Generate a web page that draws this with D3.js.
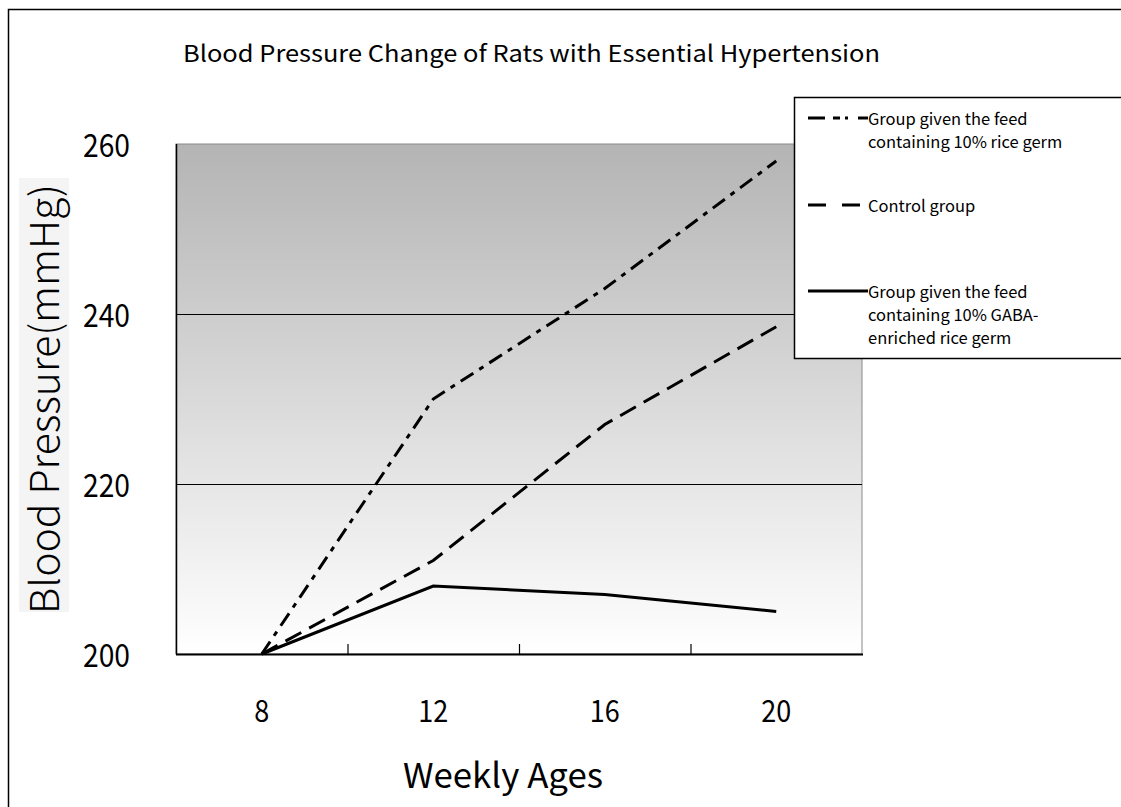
<!DOCTYPE html>
<html>
<head>
<meta charset="utf-8">
<script src="https://cdn.jsdelivr.net/npm/d3@7"></script>
<style>
  body { margin: 0; background: #fff; }
  text { font-family: "Noto Sans CJK JP", "DejaVu Sans", sans-serif; fill: #000; }
</style>
</head>
<body>
<script>
// data
var weeks = ["8", "12", "16", "20"];
var riceGerm = [200, 230, 243, 258];
var control = [200, 211, 227, 238.5];
var gaba = [200, 208, 207, 205];
var yTicks = [200, 220, 240, 260];
var seriesNames = [
  ["Group given the feed", "containing 10% rice germ"],
  ["Control group"],
  ["Group given the feed", "containing 10% GABA-", "enriched rice germ"]
];

var W = 1121, H = 807;
var plot = {left: 176, right: 862, top: 144, bottom: 654};

var svg = d3.select("body").append("svg")
    .attr("width", W)
    .attr("height", H);

var defs = svg.append("defs");
var grad = defs.append("linearGradient")
    .attr("id", "bg")
    .attr("x1", 0).attr("y1", 0).attr("x2", 0).attr("y2", 1);
grad.append("stop").attr("offset", "0%").attr("stop-color", "#b4b4b4");
grad.append("stop").attr("offset", "100%").attr("stop-color", "#ffffff");

// outer frame (runs off right/bottom)
svg.append("path")
    .attr("d", "M8.5," + (H + 5) + " L8.5,9.5 L" + (W + 5) + ",9.5")
    .attr("fill", "none")
    .attr("stroke", "#000")
    .attr("stroke-width", 1.5);

var x = d3.scaleBand().domain(weeks).range([plot.left, plot.right]);
var y = d3.scaleLinear().domain([200, 260]).range([plot.bottom, plot.top]);

// plot background
svg.append("rect")
    .attr("x", plot.left).attr("y", plot.top)
    .attr("width", plot.right - plot.left)
    .attr("height", plot.bottom - plot.top)
    .attr("fill", "url(#bg)")
    .attr("stroke", "#8a8a8a")
    .attr("stroke-width", 1);

// gridlines
svg.selectAll("line.grid")
    .data(yTicks.filter(function(d){ return d > 200 && d < 260; }))
    .enter().append("line")
    .attr("class", "grid")
    .attr("x1", plot.left).attr("x2", plot.right)
    .attr("y1", function(d){ return Math.round(y(d)) + 0.5; })
    .attr("y2", function(d){ return Math.round(y(d)) + 0.5; })
    .attr("stroke", "#000")
    .attr("stroke-width", 1.2);

// left axis line
svg.append("line")
    .attr("x1", plot.left + 0.5).attr("x2", plot.left + 0.5)
    .attr("y1", plot.top).attr("y2", plot.bottom)
    .attr("stroke", "#000").attr("stroke-width", 1.5);

// bottom axis with ticks between categories
var xAxis = svg.append("g")
    .attr("transform", "translate(0," + plot.bottom + ")");
xAxis.append("line")
    .attr("x1", plot.left).attr("x2", plot.right + 1)
    .attr("y1", 0.5).attr("y2", 0.5)
    .attr("stroke", "#000").attr("stroke-width", 2);
xAxis.selectAll("line.tick")
    .data(weeks.slice(1))
    .enter().append("line")
    .attr("class", "tick")
    .attr("x1", function(d){ return x(d) + 0.5; })
    .attr("x2", function(d){ return x(d) + 0.5; })
    .attr("y1", 0).attr("y2", -10)
    .attr("stroke", "#000").attr("stroke-width", 1.2);
xAxis.selectAll("text")
    .data(weeks)
    .enter().append("text")
    .attr("x", function(d){ return x(d) + x.bandwidth() / 2; })
    .attr("y", 68)
    .attr("text-anchor", "middle")
    .attr("textLength", function(d){ return d.length * 15; })
    .attr("lengthAdjust", "spacingAndGlyphs")
    .style("font-size", "30px")
    .text(function(d){ return d; });

// y tick labels
svg.selectAll("text.ytick")
    .data(yTicks)
    .enter().append("text")
    .attr("class", "ytick")
    .attr("x", 83)
    .attr("y", function(d){ return y(d) + 13; })
    .attr("textLength", 47)
    .attr("lengthAdjust", "spacingAndGlyphs")
    .style("font-size", "32px")
    .text(function(d){ return d; });

// titles
svg.append("text")
    .attr("x", 183).attr("y", 62)
    .attr("textLength", 697)
    .attr("lengthAdjust", "spacingAndGlyphs")
    .style("font-size", "23px")
    .text("Blood Pressure Change of Rats with Essential Hypertension");

svg.append("text")
    .attr("x", 403).attr("y", 788)
    .attr("textLength", 200)
    .attr("lengthAdjust", "spacingAndGlyphs")
    .style("font-size", "34px")
    .text("Weekly Ages");

svg.append("rect")
    .attr("x", 19).attr("y", 178)
    .attr("width", 50).attr("height", 434)
    .attr("fill", "#f4f4f4");
svg.append("text")
    .attr("transform", "translate(59,614) rotate(-90)")
    .attr("textLength", 430)
    .attr("lengthAdjust", "spacingAndGlyphs")
    .style("font-size", "40px")
    .style("font-weight", 300)
    .text("Blood Pressure(mmHg)");

// series lines
var series = [
  {values: riceGerm, dash: "15,7,5,7"},
  {values: control, dash: "18,9"},
  {values: gaba, dash: null}
];
var line = d3.line()
    .x(function(d, i){ return x(weeks[i]) + x.bandwidth() / 2; })
    .y(function(d){ return y(d); });

svg.selectAll("path.series")
    .data(series)
    .enter().append("path")
    .attr("class", "series")
    .attr("d", function(d){ return line(d.values); })
    .attr("fill", "none")
    .attr("stroke", "#000")
    .attr("stroke-width", 3)
    .attr("stroke-dasharray", function(d){ return d.dash; });

// legend
var legend = svg.append("g");
legend.append("rect")
    .attr("x", 794.5).attr("y", 97.5)
    .attr("width", 340).attr("height", 261)
    .attr("fill", "#fff")
    .attr("stroke", "#000")
    .attr("stroke-width", 1.5);
var legendY = [118, 205, 291];
var legendDash = ["17,8,7,5,3,10", "18,16", null];
series.forEach(function(s, i){
  legend.append("line")
    .attr("x1", 808).attr("x2", 868)
    .attr("y1", legendY[i]).attr("y2", legendY[i])
    .attr("stroke", "#000")
    .attr("stroke-width", 3)
    .attr("stroke-dasharray", legendDash[i]);
  seriesNames[i].forEach(function(t, j){
    legend.append("text")
      .attr("x", 868)
      .attr("y", legendY[i] + 7 + j * 23)
      .style("font-size", "16.5px")
      .text(t);
  });
});
</script>
</body>
</html>
